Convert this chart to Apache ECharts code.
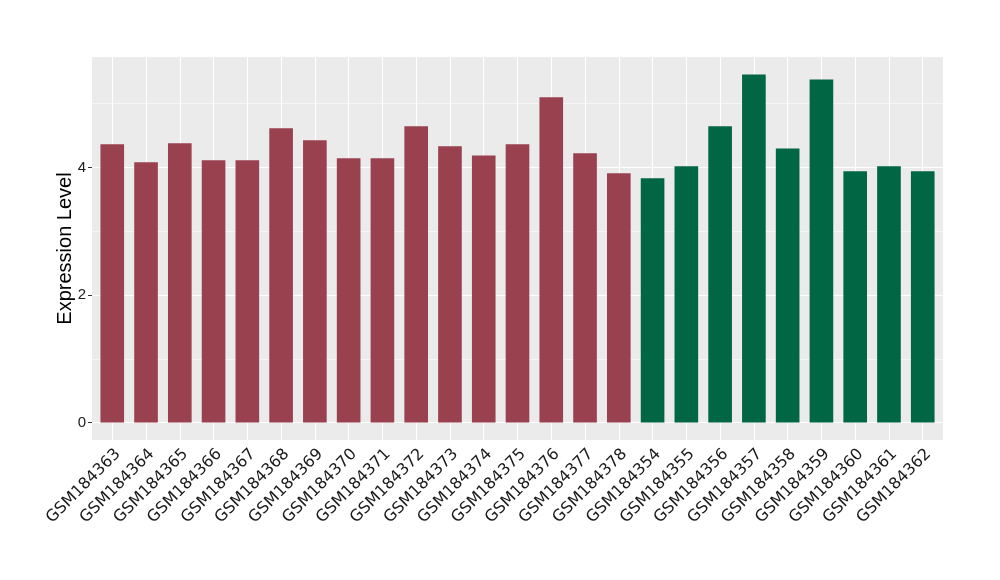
<!DOCTYPE html>
<html>
<head>
<meta charset="utf-8">
<script src="https://cdn.jsdelivr.net/npm/echarts@6/dist/echarts.min.js"></script>
<style>html,body{margin:0;padding:0;background:#fff;}#c{width:1000px;height:580px;}</style>
</head>
<body>
<div id="c"></div>
<script>
const groupACategories = ['GSM184363','GSM184364','GSM184365','GSM184366','GSM184367','GSM184368','GSM184369','GSM184370','GSM184371','GSM184372','GSM184373','GSM184374','GSM184375','GSM184376','GSM184377','GSM184378'];
const groupAValues = [4.365, 4.083, 4.381, 4.114, 4.114, 4.615, 4.428, 4.146, 4.146, 4.647, 4.333, 4.19, 4.365, 5.10, 4.225, 3.91];
const groupBCategories = ['GSM184354','GSM184355','GSM184356','GSM184357','GSM184358','GSM184359','GSM184360','GSM184361','GSM184362'];
const groupBValues = [3.833, 4.02, 4.647, 5.46, 4.30, 5.38, 3.94, 4.02, 3.94];
const yTicks = [0, 2, 4];
const yMinorTicks = [1, 3, 5];

const colorA = '#9A4150';
const colorB = '#006644';

const categories = groupACategories.concat(groupBCategories);
const positions = categories.map((c, i) => i + 1);
const barData = groupAValues.map((v, i) => ({value: [i + 1, v], itemStyle: {color: colorA}}))
  .concat(groupBValues.map((v, i) => ({value: [groupAValues.length + i + 1, v], itemStyle: {color: colorB}})));
const allVals = groupAValues.concat(groupBValues);
const maxV = Math.max(...allVals);
const pad = 0.05 * maxV;

const gridLines = []
  .concat(yTicks.map(v => ({yAxis: v, lineStyle: {width: 1.1}})))
  .concat(yMinorTicks.map(v => ({yAxis: v, lineStyle: {width: 0.55}})))
  .concat(positions.map(p => ({xAxis: p, lineStyle: {width: 1.1}})));

const chart = echarts.init(document.getElementById('c'), null, {renderer: 'canvas'});
chart.setOption({
  animation: false,
  grid: {left: 92, right: 57, top: 57, bottom: 140, show: true, backgroundColor: '#EBEBEB', borderWidth: 0},
  xAxis: {
    type: 'value',
    min: 0.4,
    max: categories.length + 0.6,
    axisLine: {show: false},
    axisTick: {show: true, length: 4, customValues: positions, lineStyle: {color: '#333'}},
    axisLabel: {customValues: positions, formatter: v => categories[Math.round(v) - 1] || '', rotate: 45, fontSize: 16, color: '#1a1a1a', fontFamily: 'DejaVu Sans, sans-serif', margin: 6, verticalAlign: 'top', align: 'right'},
    splitLine: {show: false}
  },
  yAxis: {
    type: 'value',
    min: -pad,
    max: maxV + pad,
    name: 'Expression Level',
    nameLocation: 'middle',
    nameGap: 17,
    nameMoveOverlap: false,
    nameTextStyle: {fontSize: 20, color: '#000', fontFamily: 'Liberation Sans, Arial, sans-serif'},
    axisLine: {show: false},
    axisTick: {show: true, length: 4, customValues: yTicks, lineStyle: {color: '#333'}},
    axisLabel: {customValues: yTicks, fontSize: 15, color: '#1a1a1a', fontFamily: 'Liberation Sans, Arial, sans-serif', margin: 6},
    splitLine: {show: false}
  },
  series: [
    {
      type: 'line',
      data: [],
      z: 1,
      silent: true,
      markLine: {z: 1, silent: true, symbol: 'none', label: {show: false}, lineStyle: {color: '#FFFFFF', type: 'solid'}, emphasis: {disabled: true}, data: gridLines}
    },
    {
      type: 'bar',
      data: barData,
      barWidth: '70%',
      z: 3
    }
  ]
});
</script>
</body>
</html>
